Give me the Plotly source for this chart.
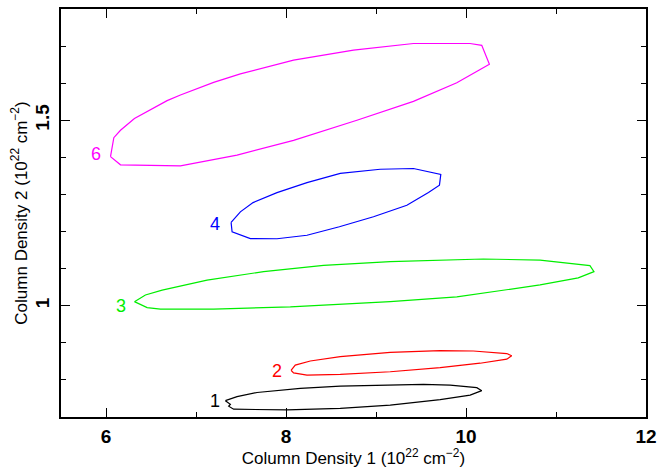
import plotly.graph_objects as go

# Contour levels (x = Column Density 1, y = Column Density 2)
c1_x = [7.326, 7.382, 7.363, 7.418, 8.011, 8.603, 9.158, 9.713, 10.046, 10.175, 10.120, 9.824, 9.527, 9.010, 8.603, 8.159, 7.678, 7.456, 7.326]
c1_y = [0.744, 0.734, 0.729, 0.721, 0.719, 0.723, 0.732, 0.747, 0.759, 0.771, 0.779, 0.786, 0.788, 0.786, 0.783, 0.777, 0.766, 0.755, 0.744]

c2_x = [8.056, 8.084, 8.233, 8.603, 9.158, 9.713, 10.157, 10.453, 10.508, 10.453, 10.082, 9.713, 9.158, 8.603, 8.270, 8.103, 8.056]
c2_y = [0.826, 0.819, 0.813, 0.815, 0.822, 0.833, 0.845, 0.856, 0.865, 0.871, 0.878, 0.879, 0.874, 0.863, 0.851, 0.840, 0.826]

c3_x = [6.316, 6.457, 6.605, 7.196, 8.048, 9.158, 9.898, 10.823, 11.247, 11.422, 11.377, 10.823, 10.193, 9.823, 9.158, 8.417, 7.751, 7.123, 6.624, 6.438, 6.316]
c3_y = [1.011, 0.995, 0.991, 0.991, 0.997, 1.011, 1.024, 1.056, 1.075, 1.092, 1.108, 1.123, 1.126, 1.123, 1.119, 1.109, 1.092, 1.069, 1.042, 1.029, 1.011]

c4_x = [7.390, 7.401, 7.604, 7.900, 8.233, 8.593, 8.972, 9.343, 9.583, 9.705, 9.720, 9.416, 9.047, 8.603, 8.233, 7.900, 7.634, 7.493, 7.390]
c4_y = [1.2245, 1.1995, 1.181, 1.1806, 1.190, 1.213, 1.240, 1.271, 1.305, 1.325, 1.354, 1.370, 1.368, 1.357, 1.332, 1.305, 1.278, 1.253, 1.2245]

c6_x = [6.050, 6.087, 6.161, 6.316, 6.679, 6.827, 7.196, 7.493, 8.084, 8.750, 9.416, 10.045, 10.175, 10.260, 9.898, 9.416, 8.788, 8.084, 7.456, 6.827, 6.161, 6.050]
c6_y = [1.402, 1.453, 1.473, 1.505, 1.553, 1.568, 1.602, 1.625, 1.662, 1.689, 1.707, 1.707, 1.702, 1.651, 1.601, 1.551, 1.500, 1.446, 1.406, 1.377, 1.380, 1.402]

labels = ["1", "2", "3", "4", "6"]
label_x = [7.21, 7.90, 6.17, 7.215, 5.885]
label_y = [0.742, 0.824, 1.0, 1.22, 1.41]
colors = ["#000000", "#ff0000", "#00ee00", "#0000ff", "#ff00ff"]

xs = [c1_x, c2_x, c3_x, c4_x, c6_x]
ys = [c1_y, c2_y, c3_y, c4_y, c6_y]

fig = go.Figure()
for xv, yv, col in zip(xs, ys, colors):
    fig.add_trace(go.Scatter(x=xv, y=yv, mode="lines",
                             line=dict(color=col, width=1.2), hoverinfo="skip"))

for t, lx, ly, col in zip(labels, label_x, label_y, colors):
    fig.add_annotation(x=lx, y=ly, text=t, showarrow=False,
                       font=dict(family="Liberation Sans", size=18, color=col))

axis_font = dict(family="Liberation Sans", size=19, color="black", weight="bold")
title_font = dict(family="Liberation Sans", size=17, color="black")

fig.update_layout(
    width=660, height=468,
    margin=dict(l=61, r=14, t=9, b=51),
    paper_bgcolor="white", plot_bgcolor="white",
    showlegend=False,
    xaxis=dict(range=[5.5, 12], tick0=6, dtick=2, ticks="inside", ticklen=9,
               tickwidth=1.3, tickcolor="black",
               minor=dict(ticks="inside", ticklen=5, dtick=1, tick0=6, tickcolor="black", tickwidth=1.3),
               showline=True, linewidth=1.8, linecolor="black", mirror="ticks",
               showgrid=False, zeroline=False, tickfont=axis_font,
               ticklabelstandoff=1, automargin=False,
               title=dict(text="Column Density 1 (10<sup>22</sup> cm<sup>−2</sup>)",
                          font=title_font, standoff=0)),
    yaxis=dict(range=[0.7, 1.8], tick0=1, dtick=0.5, ticks="inside", ticklen=9,
               tickwidth=1.3, tickcolor="black",
               minor=dict(ticks="inside", ticklen=5, dtick=0.1, tick0=1, tickcolor="black", tickwidth=1.3),
               showline=True, linewidth=1.8, linecolor="black", mirror="ticks",
               showgrid=False, zeroline=False, tickfont=axis_font, tickangle=-90,
               automargin=False, ticklabelstandoff=3,
               title=dict(text="Column Density 2 (10<sup>22</sup> cm<sup>−2</sup>)",
                          font=title_font, standoff=0)),
)

fig.write_html("out.html", config={"displayModeBar": False},
               post_script="document.body.style.margin='0px';")
